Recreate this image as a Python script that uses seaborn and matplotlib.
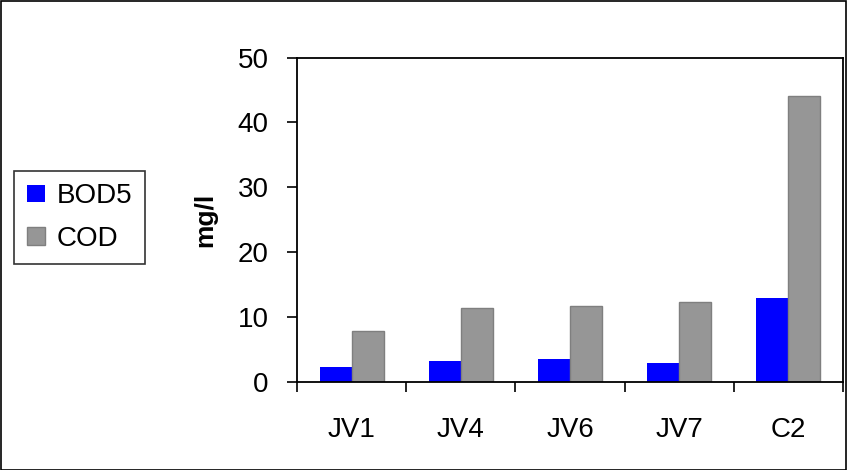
import pandas as pd
import matplotlib.pyplot as plt
import seaborn as sns
from matplotlib.patches import Patch, Rectangle

# data
sites = ["JV1", "JV4", "JV6", "JV7", "C2"]
bod5 = [2.3, 3.2, 3.5, 2.9, 13.0]
cod = [7.9, 11.4, 11.7, 12.3, 44.1]

df = pd.DataFrame({
    "site": sites * 2,
    "value": bod5 + cod,
    "param": ["BOD5"] * len(sites) + ["COD"] * len(sites),
})

sns.set_style("white")
plt.rcParams["font.family"] = ["Liberation Sans", "DejaVu Sans"]
plt.rcParams["text.color"] = "black"
plt.rcParams["axes.labelcolor"] = "black"
plt.rcParams["xtick.color"] = "black"
plt.rcParams["ytick.color"] = "black"

fig = plt.figure(figsize=(8.48, 4.70), dpi=100)
ax = fig.add_axes([297 / 848, 1 - 382 / 470, (843 - 297) / 848, (382 - 57.5) / 470])

colors = {"BOD5": "#0000ff", "COD": "#969696"}
sns.barplot(data=df, x="site", y="value", hue="param", palette=colors,
            width=0.585, saturation=1, ax=ax, legend=False)

# gray bars have a darker rim, blue ones none
for p in ax.patches:
    fc = p.get_facecolor()
    if fc[2] > 0.9 and fc[0] < 0.1:
        p.set_edgecolor("none")
    else:
        p.set_edgecolor("#7f7f7f")
        p.set_linewidth(1.0)

ax.set_ylim(0, 50)
ax.set_yticks([0, 10, 20, 30, 40, 50])
ax.set_xlim(-0.5, len(sites) - 0.5)

for s in ax.spines.values():
    s.set_visible(True)
    s.set_color("black")
    s.set_linewidth(1.3)

ax.tick_params(axis="y", direction="out", length=7.5, width=1.2, pad=13,
               labelsize=20, left=True, color="black", labelcolor="black")
ax.tick_params(axis="x", which="major", length=0, pad=25, labelsize=20,
               labelcolor="black")
ax.set_xticks([i - 0.5 for i in range(len(sites) + 1)], minor=True)
ax.tick_params(axis="x", which="minor", direction="out", length=7.5, width=1.2,
               bottom=True, color="black")

ax.set_xlabel("")
ax.set_ylabel("mg/l", fontsize=19, fontweight="bold", color="black")
ax.yaxis.set_label_coords((217 - 297) / 546, 0.5)

handles = [Patch(facecolor=colors["BOD5"], edgecolor="none", label="BOD5"),
           Patch(facecolor=colors["COD"], edgecolor="#7f7f7f", label="COD")]
leg = fig.legend(handles=handles, loc="center left",
                 bbox_to_anchor=(14 / 848, 1 - 217.5 / 470),
                 fontsize=20, frameon=True, fancybox=False, borderaxespad=0,
                 handlelength=0.65, handleheight=0.6, handletextpad=0.45,
                 labelspacing=0.6, borderpad=0.45)
leg.get_frame().set_edgecolor("black")
leg.get_frame().set_linewidth(1.2)
for t in leg.get_texts():
    t.set_color("black")

# outer border of the figure
fig.patches.append(Rectangle((0.001, 0.001), 0.997, 0.997, transform=fig.transFigure,
                             fill=False, edgecolor="black", linewidth=1.2))

fig.savefig("out.png", dpi=100)
